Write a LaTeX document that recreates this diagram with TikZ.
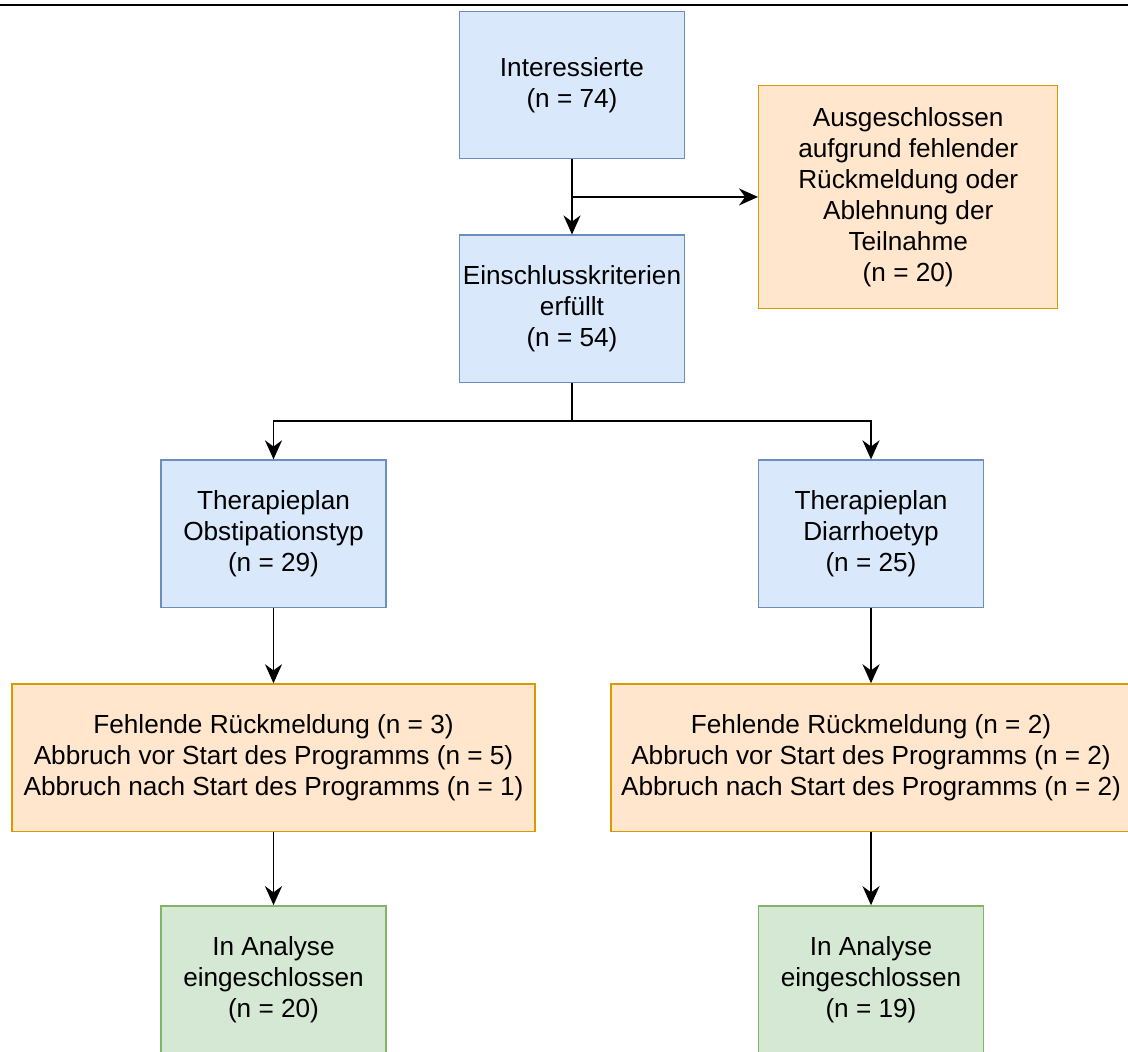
\documentclass[tikz,border=0pt]{standalone}
\usepackage{fontspec}
\setmainfont{Liberation Sans}
\usetikzlibrary{arrows.meta, positioning}
\definecolor{bluefill}{HTML}{DAE8FC}
\definecolor{bluedraw}{HTML}{6C8EBF}
\definecolor{orangefill}{HTML}{FFE6CC}
\definecolor{orangedraw}{HTML}{D79B00}
\definecolor{greenfill}{HTML}{D5E8D4}
\definecolor{greendraw}{HTML}{82B366}

\begin{document}
\begin{tikzpicture}[
  node distance=1.5cm and 1.5cm,
  box/.style={
    rectangle, line width=0.8pt,
    minimum width=4.5cm, minimum height=2.95cm,
    align=center, inner sep=1pt,
    font=\fontsize{14.9}{17.6}\selectfont
  },
  bluebox/.style={box, fill=bluefill, draw=bluedraw},
  orangebox/.style={box, fill=orangefill, draw=orangedraw},
  greenbox/.style={box, fill=greenfill, draw=greendraw},
  arrow/.style={-{Stealth[length=0.38cm, width=0.34cm]}, line width=1.1pt}
]
  \useasboundingbox (0,0) rectangle (22.56,-21.04);
  \clip (0,0) rectangle (22.56,-21.04);
  \fill[white] (0,0) rectangle (22.56,-21.04);
  \draw[line width=1.5pt] (0,-0.1) -- (22.56,-0.1);

  \node[bluebox] (intr) at (11.44,-1.7) {Interessierte\\(n = 74)};
  \node[bluebox, below=of intr] (einschl) {Einschlusskriterien\\erfüllt\\(n = 54)};
  \coordinate[below=0.75cm of intr] (j1);
  \node[orangebox, minimum width=5.98cm, minimum height=4.45cm, right=3.72cm of j1] (ausg)
    {Ausgeschlossen\\aufgrund fehlender\\Rückmeldung oder\\Ablehnung der\\Teilnahme\\(n = 20)};
  \coordinate[below=0.76cm of einschl] (j2);

  \node[bluebox, below=1.52cm of einschl, xshift=-5.97cm] (obst) {Therapieplan\\Obstipationstyp\\(n = 29)};
  \node[bluebox, below=1.52cm of einschl, xshift=5.98cm] (diar) {Therapieplan\\Diarrhoetyp\\(n = 25)};

  \node[orangebox, minimum width=10.46cm, below=of obst] (fehlO)
    {Fehlende Rückmeldung (n = 3)\\Abbruch vor Start des Programms (n = 5)\\Abbruch nach Start des Programms (n = 1)};
  \node[orangebox, minimum width=10.4cm, below=of diar] (fehlD)
    {Fehlende Rückmeldung (n = 2)\\Abbruch vor Start des Programms (n = 2)\\Abbruch nach Start des Programms (n = 2)};

  \node[greenbox, below=1.46cm of fehlO] (analO) {In Analyse\\eingeschlossen\\(n = 20)};
  \node[greenbox, below=1.46cm of fehlD] (analD) {In Analyse\\eingeschlossen\\(n = 19)};

  \draw[arrow] (intr) -- (einschl);
  \draw[arrow] (j1) -- (ausg);
  \draw[line width=1.1pt] (einschl) -- (j2);
  \draw[arrow] (j2) -| (obst);
  \draw[arrow] (j2) -| (diar);
  \draw[arrow] (obst) -- (fehlO);
  \draw[arrow] (diar) -- (fehlD);
  \draw[arrow] (fehlO) -- (analO);
  \draw[arrow] (fehlD) -- (analD);
\end{tikzpicture}
\end{document}
